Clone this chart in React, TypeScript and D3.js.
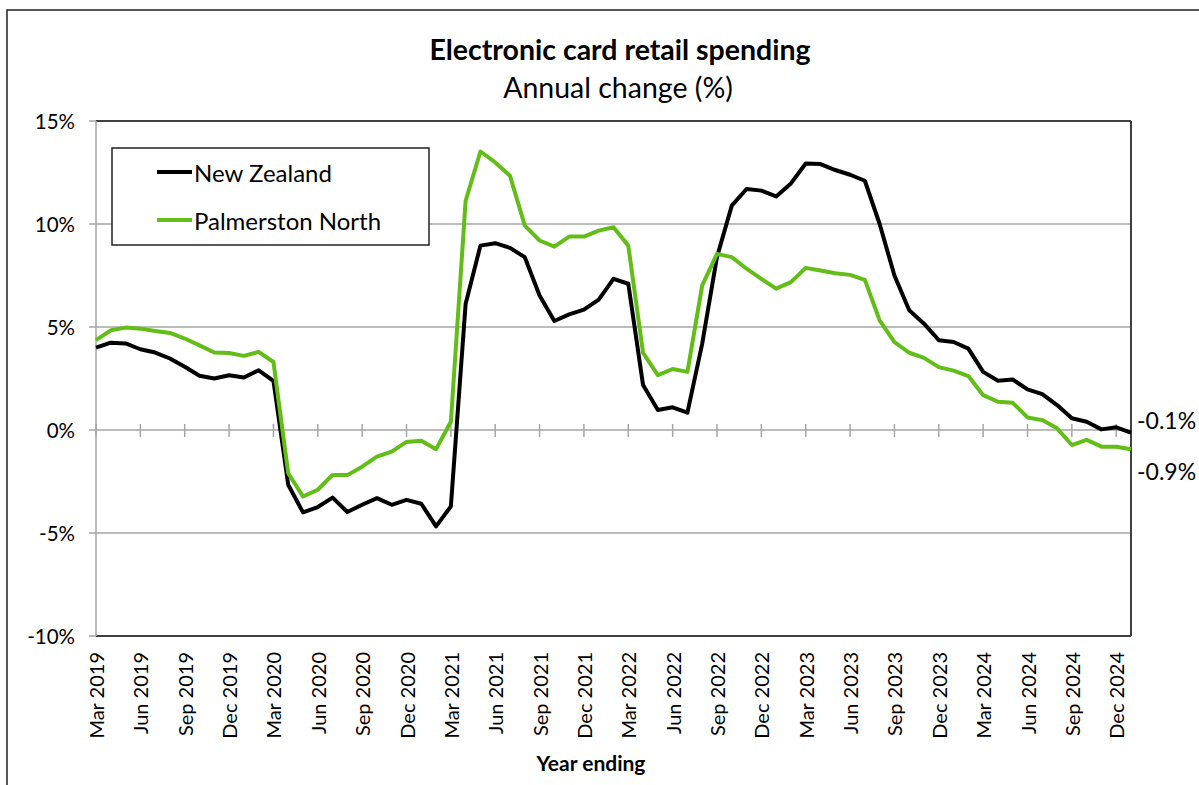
import React from "react";
import * as d3 from "d3";

// ---- Data ----
const startMonth = new Date(2019, 2, 1); // Mar 2019
const endMonth = new Date(2025, 1, 1); // exclusive -> last is Jan 2025
const categories: Date[] = d3.timeMonths(startMonth, endMonth);

const newZealand: number[] = [
  4.0, 4.24, 4.2, 3.92, 3.76, 3.47, 3.07, 2.63, 2.5, 2.66, 2.55, 2.9, 2.39,
  -2.66, -4.0, -3.74, -3.28, -3.98, -3.63, -3.31, -3.63, -3.39, -3.58, -4.68, -3.71,
  6.13, 8.95, 9.07, 8.84, 8.39, 6.53, 5.29, 5.61, 5.84, 6.33, 7.34, 7.1,
  2.18, 0.97, 1.1, 0.84, 4.19, 8.4, 10.89, 11.7, 11.62, 11.34, 11.97, 12.94,
  12.91, 12.62, 12.39, 12.1, 10.0, 7.5, 5.81, 5.16, 4.36, 4.27, 3.95, 2.82,
  2.39, 2.45, 1.97, 1.74, 1.21, 0.57, 0.4, 0.03, 0.13, -0.13,
];

const palmerstonNorth: number[] = [
  4.36, 4.84, 4.97, 4.92, 4.81, 4.71, 4.44, 4.11, 3.76, 3.74, 3.6, 3.79, 3.3,
  -2.1, -3.23, -2.9, -2.18, -2.19, -1.78, -1.29, -1.05, -0.58, -0.52, -0.93, 0.4,
  11.13, 13.52, 12.99, 12.34, 9.92, 9.2, 8.9, 9.39, 9.39, 9.68, 9.84, 8.95,
  3.74, 2.66, 2.96, 2.82, 7.02, 8.55, 8.39, 7.83, 7.34, 6.86, 7.18, 7.87,
  7.74, 7.61, 7.53, 7.29, 5.32, 4.27, 3.75, 3.5, 3.05, 2.88, 2.62, 1.69,
  1.37, 1.32, 0.61, 0.48, 0.08, -0.73, -0.48, -0.81, -0.81, -0.93,
];

const yTicks: number[] = [-10, -5, 0, 5, 10, 15];
const seriesNames: string[] = ["New Zealand", "Palmerston North"];
const seriesColors: string[] = ["#000000", "#62BE17"];
const titleText = "Electronic card retail spending";
const subtitleText = "Annual change (%)";
const xAxisTitle = "Year ending";

// ---- Layout ----
const W = 1199;
const H = 785;
const plot = { left: 96, right: 1131, top: 121, bottom: 636 };
const FONT = "Lato, 'Open Sans', sans-serif";

export default function App() {
  const keys = categories.map((d) => d3.timeFormat("%Y-%m")(d));
  const x = d3.scalePoint<string>().domain(keys).range([plot.left, plot.right]).padding(0);
  const y = d3.scaleLinear().domain([-10, 15]).range([plot.bottom, plot.top]);
  const fmtTick = d3.timeFormat("%b %Y");
  const line = d3
    .line<number>()
    .x((_, i) => x(keys[i]) as number)
    .y((v) => y(v));

  const series = [newZealand, palmerstonNorth];
  const tickIdx = keys.map((_, i) => i).filter((i) => i % 3 === 0);
  const lastNZ = newZealand[newZealand.length - 1];
  const lastPN = palmerstonNorth[palmerstonNorth.length - 1];
  const fmtEnd = (v: number) => d3.format(".1f")(v).replace("\u2212", "-") + "%";

  return (
    <svg
      width={W}
      height={H}
      style={{ position: "absolute", left: 0, top: 0, background: "#fff" }}
      fontFamily={FONT}
    >
      <rect x={0} y={0} width={W} height={H} fill="#fff" />
      {/* outer chart border (cut at right/bottom) */}
      <rect x={7} y={10} width={1300} height={900} fill="none" stroke="#222" strokeWidth={1.5} />

      {/* titles */}
      <text x={620} y={60} textAnchor="middle" fontWeight="bold" fontSize={28.5} fill="#000">
        {titleText}
      </text>
      <text x={618} y={98} textAnchor="middle" fontSize={28.5} fill="#000">
        {subtitleText}
      </text>

      {/* gridlines */}
      {yTicks.map((t) => (
        <g key={t}>
          {t !== -10 && t !== 15 && (
            <line x1={plot.left} x2={plot.right} y1={y(t)} y2={y(t)} stroke="#a6a6a6" strokeWidth={1.5} />
          )}
          <line x1={plot.left - 7} x2={plot.left} y1={y(t)} y2={y(t)} stroke="#a6a6a6" strokeWidth={1.5} />
          <text x={75} y={y(t)} textAnchor="end" dominantBaseline="central" fontSize={20.5} fill="#000">
            {t}%
          </text>
        </g>
      ))}

      {/* x tick marks across zero line */}
      {tickIdx.map((i) => (
        <line
          key={"t" + i}
          x1={x(keys[i])}
          x2={x(keys[i])}
          y1={y(0) - 6}
          y2={y(0) + 7}
          stroke="#a6a6a6"
          strokeWidth={1.5}
        />
      ))}

      {/* plot border */}
      <line x1={plot.left} x2={plot.right} y1={plot.top} y2={plot.top} stroke="#404040" strokeWidth={2} />
      <line x1={plot.right} x2={plot.right} y1={plot.top} y2={plot.bottom} stroke="#404040" strokeWidth={2} />
      <line x1={plot.left} x2={plot.right} y1={plot.bottom} y2={plot.bottom} stroke="#404040" strokeWidth={2} />
      <line x1={plot.left} x2={plot.left} y1={plot.top} y2={plot.bottom} stroke="#a6a6a6" strokeWidth={1.5} />

      {/* x labels */}
      {tickIdx.map((i) => (
        <text
          key={"l" + i}
          transform={`translate(${x(keys[i])},${plot.bottom + 16}) rotate(-90)`}
          textAnchor="end"
          dominantBaseline="central"
          fontSize={20}
          fill="#000"
        >
          {fmtTick(categories[i])}
        </text>
      ))}
      <text x={591} y={771} textAnchor="middle" fontWeight="bold" fontSize={21} fill="#000">
        {xAxisTitle}
      </text>

      {/* lines */}
      {series.map((s, k) => (
        <path
          key={k}
          d={line(s) || ""}
          fill="none"
          stroke={seriesColors[k]}
          strokeWidth={4}
          strokeLinejoin="round"
        />
      ))}

      {/* end labels */}
      <text x={1137} y={y(lastNZ) - 13} dominantBaseline="central" fontSize={23} fill="#000">
        {fmtEnd(lastNZ)}
      </text>
      <text x={1137} y={y(lastPN) + 22} dominantBaseline="central" fontSize={23} fill="#000">
        {fmtEnd(lastPN)}
      </text>

      {/* legend */}
      <rect x={112} y={148} width={317} height={97} fill="#fff" stroke="#222" strokeWidth={1.5} />
      {seriesNames.map((n, k) => (
        <g key={n}>
          <line x1={157} x2={192} y1={172 + k * 48} y2={172 + k * 48} stroke={seriesColors[k]} strokeWidth={4} />
          <text x={194} y={172 + k * 48} dominantBaseline="central" fontSize={24} fill="#000">
            {n}
          </text>
        </g>
      ))}
    </svg>
  );
}
